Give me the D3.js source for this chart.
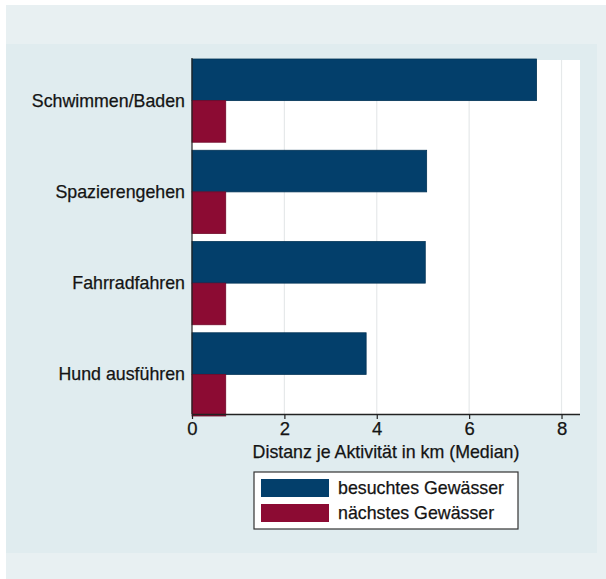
<!DOCTYPE html>
<html>
<head>
<meta charset="utf-8">
<script src="https://cdn.jsdelivr.net/npm/d3@7"></script>
<style>
  html, body { margin: 0; padding: 0; background: #ffffff; }
  svg { display: block; font-family: "Liberation Sans", Arial, sans-serif; }
  svg text { stroke: #141414; stroke-width: 0.25px; }
</style>
</head>
<body>
<svg id="chart" width="606" height="579"></svg>
<script>
// Median distance per activity (km)
const categories = ["Schwimmen/Baden", "Spazierengehen", "Fahrradfahren", "Hund ausführen"];
const visited = [7.46, 5.08, 5.05, 3.77];   // besuchtes Gewässer
const nearest = [0.73, 0.73, 0.73, 0.73];   // nächstes Gewässer
const seriesNames = ["besuchtes Gewässer", "nächstes Gewässer"];
const xTicks = [0, 2, 4, 6, 8];
const xTitle = "Distanz je Aktivität in km (Median)";

const colors = ["#033f6b", "#8c0b33"];
const fontSize = 17.8;

const svg = d3.select("#chart");

// background panels
svg.append("rect").attr("x", 6).attr("y", 5).attr("width", 600).attr("height", 574).attr("fill", "#e8f0f2");
svg.append("rect").attr("x", 6).attr("y", 44).attr("width", 591).attr("height", 509).attr("fill", "#e0ecef");

const plot = { left: 192, right: 580, top: 60, bottom: 414 };

const x = d3.scaleLinear().domain([0, 8.4]).range([plot.left, plot.right]);
const y = d3.scaleBand().domain(categories).range([59, 416]).paddingInner(0.088).paddingOuter(0);
const sub = d3.scaleBand().domain([0, 1]).range([0, y.bandwidth()]);

// plot region
svg.append("rect")
  .attr("x", plot.left).attr("y", plot.top)
  .attr("width", plot.right - plot.left).attr("height", plot.bottom - plot.top)
  .attr("fill", "#ffffff");

// vertical grid lines
svg.append("g").selectAll("line")
  .data(xTicks.filter(d => d > 0))
  .join("line")
  .attr("x1", d => x(d)).attr("x2", d => x(d))
  .attr("y1", plot.top).attr("y2", plot.bottom)
  .attr("stroke", "#e6e9ea").attr("stroke-width", 1.2);

// bars
const rows = categories.map((c, i) => ({ c, vals: [visited[i], nearest[i]] }));
const groups = svg.append("g").selectAll("g")
  .data(rows).join("g")
  .attr("transform", d => `translate(0,${y(d.c)})`);
groups.selectAll("rect")
  .data(d => d.vals.map((v, k) => ({ v, k })))
  .join("rect")
  .attr("x", x(0))
  .attr("y", d => sub(d.k))
  .attr("width", d => x(d.v) - x(0))
  .attr("height", sub.bandwidth())
  .attr("fill", d => colors[d.k])
  .attr("stroke", d => d3.color(colors[d.k]).darker(0.6))
  .attr("stroke-width", 0.8);

// left axis line
svg.append("line")
  .attr("x1", plot.left).attr("x2", plot.left)
  .attr("y1", 58).attr("y2", plot.bottom)
  .attr("stroke", "#222").attr("stroke-width", 1.2);

// category labels
svg.append("g").selectAll("text")
  .data(categories).join("text")
  .attr("x", 185)
  .attr("y", d => y(d) + y.bandwidth() / 2)
  .attr("text-anchor", "end")
  .attr("dominant-baseline", "central")
  .attr("font-size", fontSize)
  .attr("fill", "#141414")
  .text(d => d);

// bottom axis
const xAxis = d3.axisBottom(x).tickValues(xTicks).tickSize(5).tickPadding(3).tickFormat(d3.format("d"));
const gx = svg.append("g").attr("transform", `translate(0,${plot.bottom})`).call(xAxis);
gx.select(".domain").attr("d", `M${plot.left},0.5H${plot.right}`).attr("stroke", "#222").attr("stroke-width", 1.5);
gx.selectAll(".tick line").attr("stroke", "#222").attr("stroke-width", 1.2);
gx.selectAll(".tick text").attr("font-size", 18.5).attr("fill", "#141414").attr("font-family", "Liberation Sans, Arial, sans-serif");

svg.append("text")
  .attr("x", 386).attr("y", 452)
  .attr("text-anchor", "middle").attr("dominant-baseline", "central")
  .attr("font-size", fontSize).attr("fill", "#141414")
  .text(xTitle);

// legend
const lg = svg.append("g");
lg.append("rect").attr("x", 254).attr("y", 472).attr("width", 264).attr("height", 57)
  .attr("fill", "#ffffff").attr("stroke", "#333").attr("stroke-width", 1.2);
const items = lg.selectAll("g.item").data(seriesNames).join("g").attr("class", "item")
  .attr("transform", (d, i) => `translate(261,${479 + i * 25})`);
items.append("rect").attr("width", 68).attr("height", 18)
  .attr("fill", (d, i) => colors[i]);
items.append("text").attr("x", 77).attr("y", 9)
  .attr("dominant-baseline", "central").attr("font-size", fontSize).attr("fill", "#141414")
  .text(d => d);
</script>
</body>
</html>
